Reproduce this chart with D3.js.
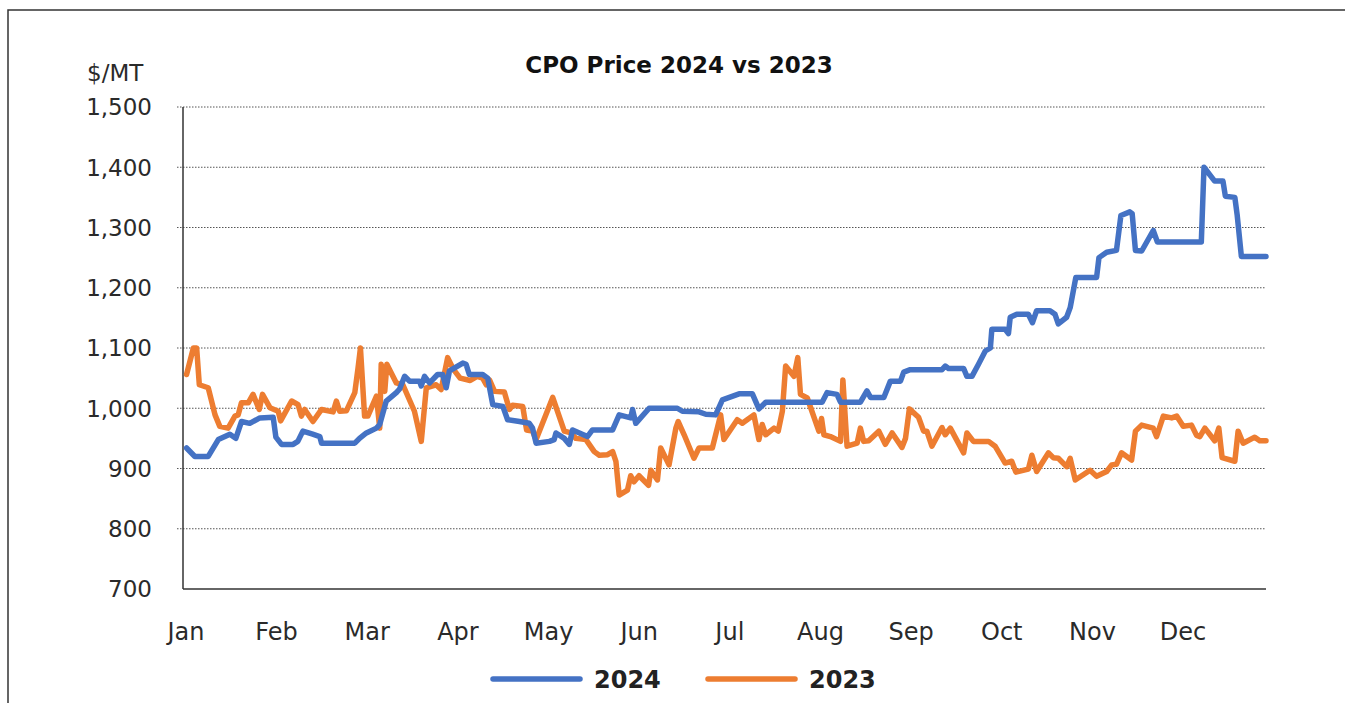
<!DOCTYPE html>
<html>
<head>
<meta charset="utf-8">
<script src="https://cdn.jsdelivr.net/npm/d3@7"></script>
<style>
  body { margin: 0; background: #fff; }
  svg { display: block; font-family: "DejaVu Sans", sans-serif; }
</style>
</head>
<body>
<svg width="1345" height="703"></svg>
<script>
// day of year, price $/MT
const months = ["Jan", "Feb", "Mar", "Apr", "May", "Jun", "Jul", "Aug", "Sep", "Oct", "Nov", "Dec"];
const yTicks = [700, 800, 900, 1000, 1100, 1200, 1300, 1400, 1500];

const days2024 = [1.2, 4.0, 8.5, 11.9, 15.8, 17.8, 19.7, 22.5, 25.9, 30.4, 31.3, 33.2, 37.1, 38.7, 40.4, 43.7, 46.1, 46.7, 57.9, 59.5,
  61.8, 65.2, 66.3, 68.5, 71.9, 73.0, 74.7, 76.4, 79.7, 80.3, 81.4, 83.1, 85.8, 87.5, 88.7, 89.8, 94.3, 95.4, 96.5, 101.0,
  102.7, 104.4, 107.8, 109.4, 113.4, 116.7, 117.8, 119.0, 123.5, 125.1, 125.7, 128.5, 130.2, 131.3, 133.6, 136.3, 138.0, 144.8, 147.0, 150.9,
  151.5, 152.6, 157.1, 166.6, 168.3, 173.9, 176.2, 179.5, 181.8, 187.4, 191.9, 194.1, 196.4, 215.4, 217.1, 220.4, 221.6, 228.3, 230.5, 231.7,
  236.2, 238.4, 241.8, 242.9, 245.1, 255.8, 256.9, 258.0, 263.1, 264.2, 265.9, 268.1, 270.4, 272.1, 272.6, 277.1, 278.2, 278.8, 281.0, 284.9,
  286.3, 287.7, 292.2, 293.9, 295.0, 297.8, 299.0, 300.9, 307.9, 308.7, 311.3, 314.6, 316.1, 319.1, 319.9, 321.0, 323.1, 327.0, 328.4, 343.2,
  344.1, 347.7, 350.5, 351.3, 354.5, 355.3, 356.7, 365];
const price2024 = [934, 920, 920, 948, 957, 950, 978, 975, 984, 985, 952, 940, 940, 945, 962, 957, 953, 942, 942, 950,
  959, 967, 973, 1012, 1026, 1032, 1053, 1045, 1045, 1037, 1053, 1042, 1056, 1056, 1034, 1062, 1075, 1073, 1056, 1056,
  1050, 1006, 1003, 981, 978, 975, 967, 942, 945, 948, 959, 950, 940, 964, 959, 953, 964, 964, 989, 984,
  998, 975, 1000, 1000, 995, 994, 990, 989, 1014, 1024, 1024, 999, 1010, 1010, 1026, 1023, 1010, 1010, 1029, 1018,
  1018, 1045, 1045, 1060, 1064, 1064, 1070, 1066, 1066, 1053, 1053, 1073, 1095, 1100, 1131, 1131, 1124, 1151, 1156, 1156,
  1142, 1162, 1162, 1156, 1140, 1151, 1167, 1217, 1217, 1250, 1259, 1262, 1320, 1326, 1323, 1262, 1261, 1295, 1276, 1276,
  1400, 1377, 1377, 1352, 1350, 1320, 1252, 1252];

const days2023 = [1.2, 3.5, 4.6, 5.5, 8.5, 10.8, 12.4, 15.2, 17.5, 18.6, 19.7, 22.0, 23.6, 25.7, 26.8, 29.3, 32.1, 32.9, 36.6, 38.8,
  39.9, 41.0, 43.8, 46.7, 50.6, 51.7, 52.8, 55.1, 57.9, 59.0, 59.8, 61.2, 62.3, 65.2, 66.3, 66.8, 68.0, 68.7, 71.9, 74.1,
  78.0, 80.3, 82.0, 85.3, 87.0, 89.2, 91.2, 93.4, 96.8, 99.1, 101.0, 102.2, 103.3, 105.0, 108.3, 110.0, 111.1, 114.5, 115.8, 117.8,
  119.0, 124.6, 128.5, 130.8, 132.4, 135.8, 138.6, 140.3, 143.1, 144.8, 145.9, 147.0, 149.8, 150.9, 152.0, 153.7, 156.9, 157.7, 159.9, 161.0,
  163.8, 166.1, 166.9, 168.9, 172.2, 173.9, 178.4, 181.2, 182.3, 186.8, 188.5, 192.4, 194.1, 195.2, 196.4, 199.2, 200.6, 202.0, 203.1, 205.9,
  207.2, 208.1, 210.4, 214.3, 215.2, 216.0, 218.2, 221.6, 222.4, 223.8, 227.2, 228.3, 229.4, 231.1, 234.5, 236.7, 239.0, 242.3, 243.5, 244.8,
  247.9, 249.6, 250.7, 252.4, 255.8, 256.9, 258.6, 263.1, 264.2, 266.4, 271.5, 273.7, 277.1, 279.3, 280.7, 284.9, 286.1, 287.7, 291.7, 293.3,
  295.0, 297.8, 299.0, 300.7, 305.7, 307.9, 311.3, 313.0, 314.6, 316.3, 319.7, 321.0, 323.1, 327.0, 328.1, 330.4, 333.2, 334.9, 337.1, 339.9,
  341.6, 342.7, 344.4, 347.7, 349.1, 350.2, 354.5, 355.6, 357.3, 361.2, 362.9, 365];
const price2023 = [1056, 1100, 1100, 1039, 1034, 989, 970, 967, 987, 989, 1009, 1009, 1023, 998, 1023, 1001, 995, 979, 1012, 1006,
  987, 998, 978, 998, 994, 1012, 995, 996, 1026, 1067, 1100, 987, 987, 1020, 967, 1073, 1028, 1073, 1042, 1039,
  995, 945, 1034, 1039, 1031, 1084, 1064, 1050, 1046, 1053, 1050, 1039, 1047, 1028, 1027, 998, 1005, 1003, 964, 962,
  948, 1018, 962, 959, 950, 948, 928, 922, 923, 928, 912, 856, 864, 888, 878, 888, 872, 897, 881, 934,
  906, 967, 978, 956, 917, 934, 934, 989, 948, 981, 975, 989, 948, 973, 956, 967, 962, 995, 1070, 1053,
  1084, 1023, 1017, 962, 983, 956, 953, 945, 1047, 937, 942, 967, 945, 946, 962, 940, 959, 935, 950, 999,
  985, 962, 962, 937, 968, 956, 967, 926, 959, 945, 945, 937, 909, 912, 894, 899, 922, 895, 926, 918,
  917, 903, 917, 881, 897, 887, 895, 906, 907, 926, 914, 962, 972, 967, 953, 987, 984, 987, 970, 972,
  955, 953, 967, 946, 967, 918, 912, 962, 942, 952, 946, 946];

const series = [
  { name: "2024", color: "#4472C4", values: days2024.map((d, i) => [d, price2024[i]]) },
  { name: "2023", color: "#ED7D31", values: days2023.map((d, i) => [d, price2023[i]]) }
];

const svg = d3.select("svg");
const x = d3.scaleLinear().domain([0, 365]).range([183, 1266]);
const y = d3.scaleLinear().domain([700, 1500]).range([589, 107]);

// outer frame
svg.append("path")
  .attr("d", "M8,710 L8,10 L1350,10")
  .attr("fill", "none")
  .attr("stroke", "#333")
  .attr("stroke-width", 1.5);

// gridlines
svg.append("g")
  .selectAll("line")
  .data(yTicks.filter(d => d > 700))
  .join("line")
  .attr("x1", x(0) - 6)
  .attr("x2", x(365))
  .attr("y1", d => y(d))
  .attr("y2", d => y(d))
  .attr("stroke", "#555")
  .attr("stroke-width", 1)
  .attr("stroke-dasharray", "1.5,1.5");

// axes
svg.append("line")
  .attr("x1", x(0)).attr("x2", x(0))
  .attr("y1", y(1500)).attr("y2", y(700))
  .attr("stroke", "#333").attr("stroke-width", 1.5);
svg.append("line")
  .attr("x1", x(0)).attr("x2", x(365))
  .attr("y1", y(700)).attr("y2", y(700))
  .attr("stroke", "#333").attr("stroke-width", 1.5);

svg.append("g")
  .selectAll("text")
  .data(yTicks)
  .join("text")
  .attr("x", 152)
  .attr("y", d => y(d))
  .attr("dy", "0.36em")
  .attr("text-anchor", "end")
  .attr("fill", "#2a2a2a")
  .style("font-size", "23px")
  .text(d => d3.format(",")(d));

svg.append("g")
  .selectAll("text")
  .data(months)
  .join("text")
  .attr("x", (d, i) => x(1 + i * 30.55))
  .attr("y", 640)
  .attr("text-anchor", "middle")
  .attr("fill", "#2a2a2a")
  .style("font-size", "24px")
  .text(d => d);

svg.append("text")
  .attr("x", 87)
  .attr("y", 81)
  .attr("fill", "#2a2a2a")
  .style("font-size", "23px")
  .text("$/MT");

svg.append("text")
  .attr("x", 679)
  .attr("y", 73)
  .attr("text-anchor", "middle")
  .attr("fill", "#111")
  .style("font-size", "23px")
  .style("font-weight", "bold")
  .text("CPO Price 2024 vs 2023");

// lines
const line = d3.line().x(d => x(d[0])).y(d => y(d[1]));
svg.append("g")
  .selectAll("path")
  .data(series.slice().reverse())
  .join("path")
  .attr("d", d => line(d.values))
  .attr("fill", "none")
  .attr("stroke", d => d.color)
  .attr("stroke-width", 5.5)
  .attr("stroke-linejoin", "round")
  .attr("stroke-linecap", "round");

// legend
const legend = svg.append("g")
  .selectAll("g")
  .data(series)
  .join("g")
  .attr("transform", (d, i) => `translate(${493 + i * 215},679)`);
legend.append("line")
  .attr("x1", 0).attr("x2", 87)
  .attr("stroke", d => d.color)
  .attr("stroke-width", 5.5)
  .attr("stroke-linecap", "round");
legend.append("text")
  .attr("x", 101)
  .attr("dy", "0.36em")
  .attr("fill", "#222")
  .style("font-size", "24px")
  .style("font-weight", "bold")
  .text(d => d.name);
</script>
</body>
</html>
